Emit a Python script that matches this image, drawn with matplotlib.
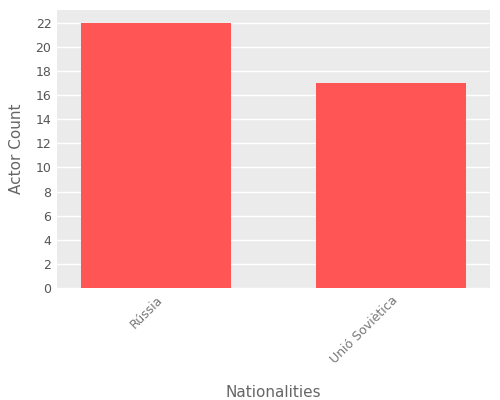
import matplotlib
matplotlib.use("Agg")
import matplotlib.pyplot as plt

categories = ["Rússia", "Unió Soviètica"]
counts = [22, 17]

fig = plt.figure(figsize=(5, 4), dpi=100)
ax = fig.add_axes([0.114, 0.28, 0.866, 0.695])
ax.set_facecolor("#EBEBEB")
ax.bar(range(len(categories)), counts, width=0.64, color="#FF5555", zorder=3)
ax.set_xlim(-0.42, 1.42)
ax.set_ylim(0, 23.07)
ax.set_yticks(range(0, 23, 2))
ax.set_xticks(range(len(categories)))
ax.set_xticklabels(categories, rotation=45, ha="right", rotation_mode="anchor")
ax.grid(axis="y", color="white", linewidth=1, zorder=0)
for s in ax.spines.values():
    s.set_visible(False)
ax.tick_params(colors="#555555", labelsize=9, length=0, pad=4)
ax.tick_params(axis="x", labelcolor="#777777")
ax.tick_params(axis="y", labelcolor="#555555")
ax.set_xlabel("Nationalities", fontsize=11, color="#666666", labelpad=14)
ax.set_ylabel("Actor Count", fontsize=11, color="#666666", labelpad=8)
fig.savefig("out.png", dpi=100)
